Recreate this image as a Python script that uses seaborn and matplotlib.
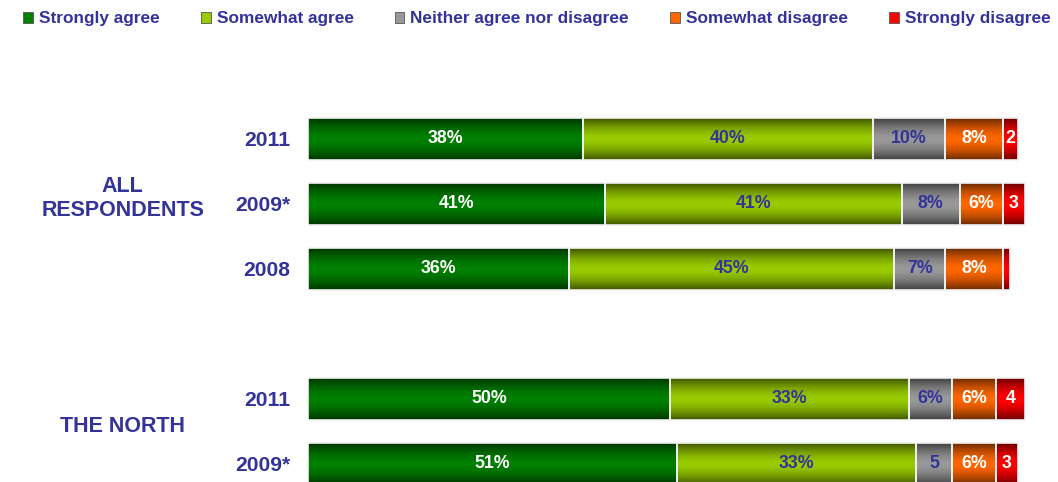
"""Agreement by group and year: stacked horizontal bars."""

import matplotlib

matplotlib.use("Agg")

import matplotlib.pyplot as plt
import numpy as np
import pandas as pd
import seaborn as sns
from matplotlib.patches import Patch, Rectangle
from matplotlib.path import Path

categories = [
    "Strongly agree",
    "Somewhat agree",
    "Neither agree nor disagree",
    "Somewhat disagree",
    "Strongly disagree",
]
groups = ["ALL\nRESPONDENTS", "ALL\nRESPONDENTS", "ALL\nRESPONDENTS", "THE NORTH", "THE NORTH"]
years = ["2011", "2009*", "2008", "2011", "2009*"]

strongly_agree = [38, 41, 36, 50, 51]
somewhat_agree = [40, 41, 45, 33, 33]
neither = [10, 8, 7, 6, 5]
somewhat_disagree = [8, 6, 8, 6, 6]
strongly_disagree = [2, 3, 1, 4, 3]

colors = ["#008000", "#99CC00", "#999999", "#FF6600", "#FF0000"]
label_colors = ["white", "#333399", "#333399", "white", "white"]
TEXT = "#333399"

sns.set_theme(style="white")
plt.rcParams["font.family"] = ["Liberation Sans", "DejaVu Sans"]
plt.rcParams["font.weight"] = "bold"

values = np.array([strongly_agree, somewhat_agree, neither, somewhat_disagree, strongly_disagree])
cum = values.cumsum(axis=0)

# one empty row between groups
group_idx = pd.factorize(pd.Series(groups))[0]
pos = np.arange(len(years)) + group_idx
bar_h = 0.646

fig = plt.figure(figsize=(10.58, 4.82), dpi=100)
ax = fig.add_axes([308 / 1058, 0, 724 / 1058, 1])

# stacked bars: draw cumulative totals from longest to shortest
for k in range(len(categories) - 1, -1, -1):
    df = pd.DataFrame({"x": cum[k], "y": pos})
    sns.barplot(data=df, x="x", y="y", orient="h", native_scale=True, color=colors[k],
                saturation=1, width=bar_h, errorbar=None, linewidth=0, ax=ax)

ax.set_xlim(0, 100)
y_top, y_bot = -2.138, 5.277
ax.set_ylim(y_bot, y_top)

# shading gradient on the bars (darker at top and bottom edges)
full_bars = ax.patches[: len(years)]
clip = Path.make_compound_path(*[p.get_path().transformed(p.get_patch_transform()) for p in full_bars])
ys = np.linspace(y_top, y_bot, 1600)
dist = np.min(np.abs(ys[:, None] - pos[None, :]), axis=1) / (bar_h / 2)
alpha = 0.6 * np.clip(dist, 0, 1) ** 1.6
overlay = np.zeros((len(ys), 2, 4))
overlay[:, :, 3] = alpha[:, None]
im = ax.imshow(overlay, extent=(0, 100, y_bot, y_top), aspect="auto", zorder=5, interpolation="bilinear")
im.set_clip_path(clip, transform=ax.transData)
ax.set_xlim(0, 100)
ax.set_ylim(y_bot, y_top)

# white separators between segments
for k in range(len(categories)):
    for i in range(len(years)):
        left = cum[k][i] - values[k][i]
        ax.add_patch(Rectangle((left, pos[i] - bar_h / 2), values[k][i], bar_h, fill=False,
                               edgecolor="#f2f2f2", linewidth=1.2, zorder=6))

# segment labels
for k in range(len(categories)):
    for i in range(len(years)):
        v = values[k][i]
        if v < 2:
            continue
        txt = f"{v}%" if v >= 6 else f"{v}"
        ax.text(cum[k][i] - v / 2, pos[i], txt, ha="center", va="center", fontsize=12.8,
                fontweight="bold", color=label_colors[k], zorder=10)

ax.set_yticks(pos, years)
ax.set_xticks([])
ax.tick_params(axis="y", length=0, pad=13, labelsize=15.2, labelcolor=TEXT)
for t in ax.get_yticklabels():
    t.set_fontweight("bold")
sns.despine(ax=ax, left=True, bottom=True)
ax.set_xlabel("")
ax.set_ylabel("")

for g in pd.unique(pd.Series(groups)):
    mask = np.array(groups) == g
    ax.text(-25.6, pos[mask].mean() - 0.08, g, ha="center", va="center", fontsize=15.5,
            fontweight="bold", color=TEXT, linespacing=1.2, clip_on=False)

handles = [Patch(facecolor=c, edgecolor="#555555", linewidth=0.6) for c in colors]
fig.legend(handles, categories, loc="upper left", bbox_to_anchor=(20 / 1058, 1 - 8 / 482), ncol=5,
           frameon=False, handlelength=0.55, handleheight=0.6, handletextpad=0.35, columnspacing=2.4,
           borderaxespad=0, borderpad=0.2, prop={"size": 12.4, "weight": "bold"}, labelcolor=TEXT)

fig.savefig("out.png", dpi=100)
